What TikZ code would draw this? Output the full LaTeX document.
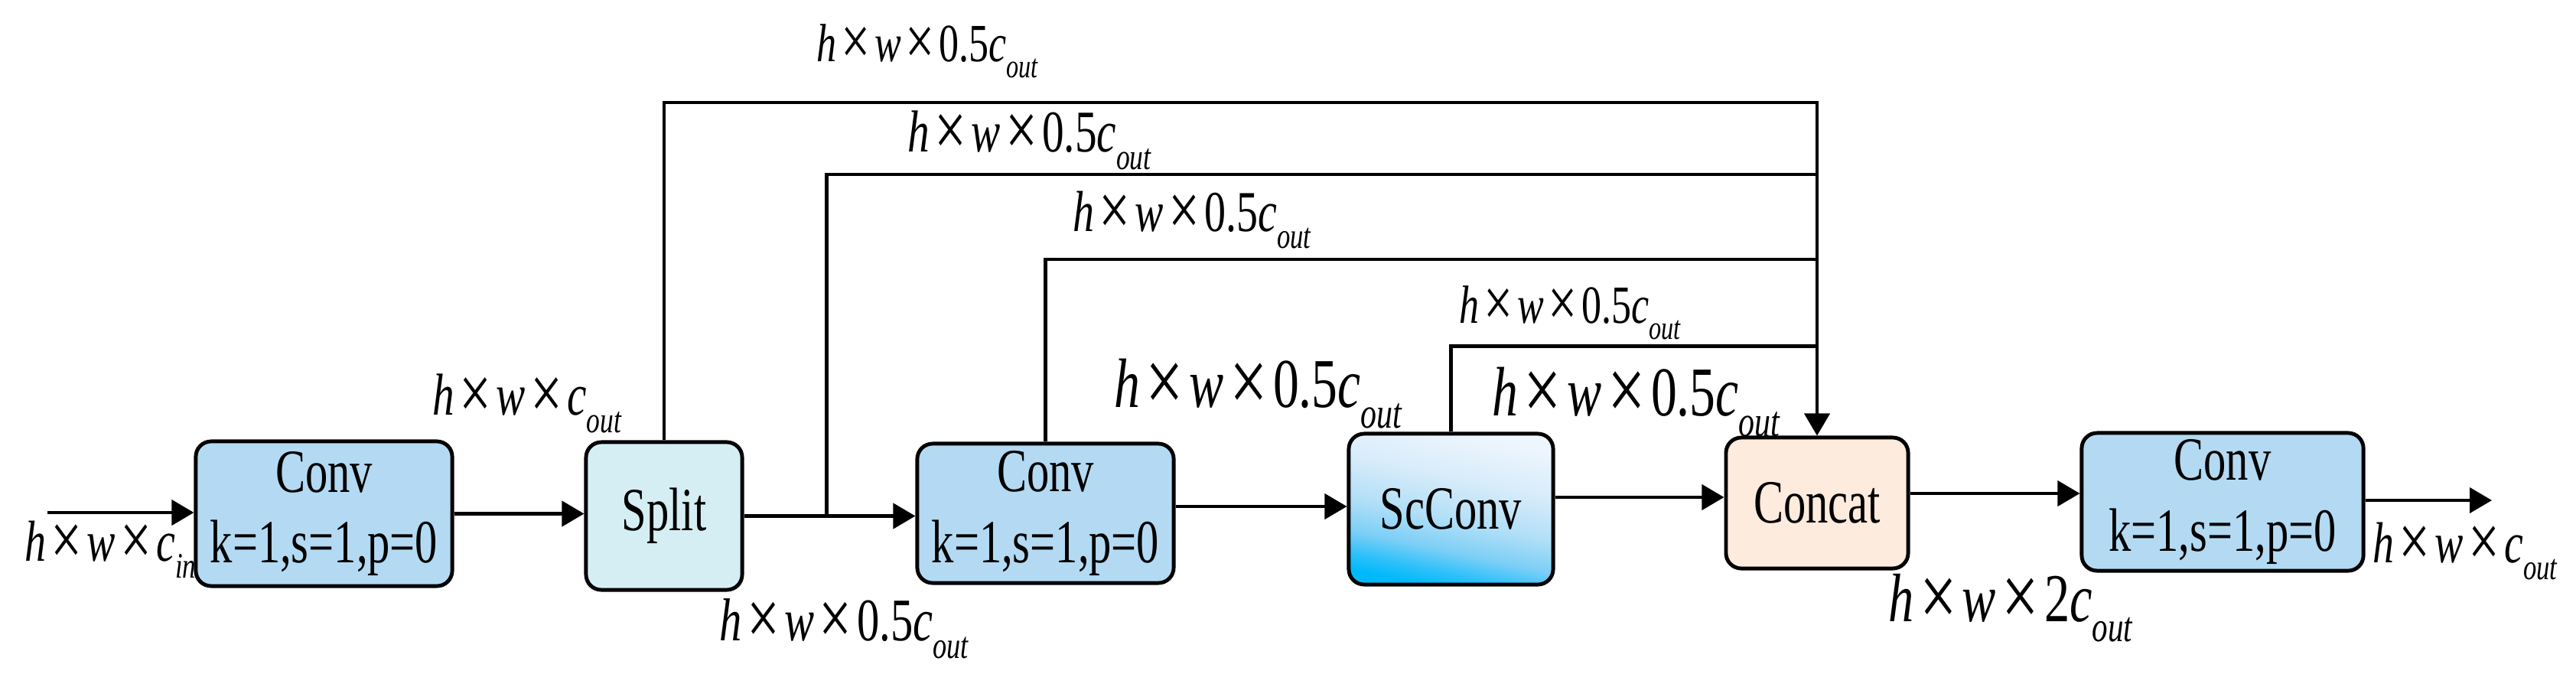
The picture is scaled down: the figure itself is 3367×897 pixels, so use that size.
\documentclass[tikz,border=0pt]{standalone}
\usepackage{fontspec}
\usepackage{graphicx}
\setmainfont{Liberation Serif}
\newfontfamily\labf[FakeStretch=0.74]{Liberation Serif}
\newfontfamily\boxf[FakeStretch=0.73]{Liberation Serif}
\usetikzlibrary{arrows.meta,calc}
\definecolor{convblue}{RGB}{179,218,242}
\definecolor{splitc}{RGB}{213,238,243}
\definecolor{concatc}{RGB}{253,235,221}
\definecolor{scA}{RGB}{0,185,250}
\definecolor{scB}{RGB}{45,192,250}
\definecolor{scC}{RGB}{125,207,246}
\definecolor{scD}{RGB}{178,223,247}
\definecolor{scE}{RGB}{216,236,250}
\definecolor{scF}{RGB}{238,246,253}
\pgfdeclareverticalshading{scshade}{100bp}{color(0bp)=(scA); color(25bp)=(scA); color(30bp)=(scB);
  color(37bp)=(scC); color(47bp)=(scD); color(60bp)=(scE); color(75bp)=(scF); color(100bp)=(scF)}
\newcommand\lsub[1]{\raisebox{-0.3em}{\scalebox{0.62}{#1}}}
\newcommand\tms{\hspace{0.08em}\raisebox{-0.07em}{\scalebox{1.3}{×}}\hspace{0.08em}}
\newcommand\dims[2]{\textit{h}\tms\textit{w}\tms#1\textit{c}\lsub{\textit{#2}}}
\tikzset{
  block/.style={draw, line width=1.4pt, rounded corners=0.2cm, inner sep=0pt, align=center,
    font=\boxf\fontsize{22.8}{26.4}\selectfont},
  convbox/.style={block, fill=convblue},
  line/.style={line width=1.2pt},
  arr/.style={line, -{Triangle[length=0.29cm,width=0.33cm]}},
  lab/.style={anchor=base west, inner sep=0pt, font=\labf\fontsize{#1}{#1}\selectfont}
}
\begin{document}
\begin{tikzpicture}[x=0.01cm,y=-0.01cm]
\useasboundingbox (0,0) rectangle (3367,897);
% boxes
\node[convbox, minimum width=3.35cm, minimum height=1.89cm] (conv1) at (423.5,671.5) {Conv\\k=1,s=1,p=0};
\node[block, fill=splitc, minimum width=2.04cm, minimum height=1.93cm] (split) at (868,674.5) {Split};
\node[convbox, minimum width=3.35cm, minimum height=1.82cm] (conv2) at (1366.5,671) {Conv\\k=1,s=1,p=0};
\node[block, shading=scshade, shading angle=-12,
      minimum width=2.67cm, minimum height=1.97cm] (scconv) at (1896.5,665.5) {ScConv};
\node[block, fill=concatc, minimum width=2.38cm, minimum height=1.71cm] (concat) at (2375,657.5) {Concat};
\node[convbox, minimum width=3.68cm, minimum height=1.80cm] (conv3) at (2905,656) {Conv\\k=1,s=1,p=0};
% free ends
\coordinate (in) at (62,670);
\coordinate (out) at (3257,654);
\path (split.east) ++(108,0) coordinate (b1);
% main flow
\draw[arr] (in) -- (in -| conv1.west);
\draw[arr] (conv1.east) -- (conv1.east -| split.west);
\draw[arr] (split.east) -- (split.east -| conv2.west);
\draw[arr] ([yshift=0.09cm]conv2.east) -- ([yshift=0.09cm]conv2.east -| scconv.west);
\draw[arr] ([yshift=0.155cm]scconv.east) -- ([yshift=0.155cm]scconv.east -| concat.west);
\draw[arr] ([yshift=0.125cm]concat.east) -- ([yshift=0.125cm]concat.east -| conv3.west);
\draw[arr] (conv3.east |- out) -- (out);
% skip connections
\draw[arr] (split.north) |- ([yshift=4.35cm]concat.north) -- (concat.north);
\draw[line] (b1) |- ([yshift=3.41cm]concat.north);
\draw[line] (conv2.north) |- ([yshift=2.30cm]concat.north);
\draw[line] (scconv.north) |- ([yshift=1.17cm]concat.north);
% labels
\node[lab=20] (l1) at (1067,80) {\dims{0.5}{out}};
\node[lab=22] (l2) at (1186,198) {\dims{0.5}{out}};
\node[lab=21.5] (l3) at (1402,302) {\dims{0.5}{out}};
\node[lab=20] (l4) at (1907,422) {\dims{0.5}{out}};
\node[lab=26] (l5) at (1456,532) {\dims{0.5}{out}};
\node[lab=26] (l6) at (1950,543) {\dims{0.5}{out}};
\node[lab=22.5] (l7) at (940,837) {\dims{0.5}{out}};
\node[lab=25.5] (l8) at (2468,812) {\dims{2}{out}};
\node[lab=21.5] (l9) at (32,733) {\dims{}{in}};
\node[lab=22] (l10) at (565,542) {\dims{}{out}};
\node[lab=21.5] (l11) at (3101,735) {\dims{}{out}};
\end{tikzpicture}
\end{document}
